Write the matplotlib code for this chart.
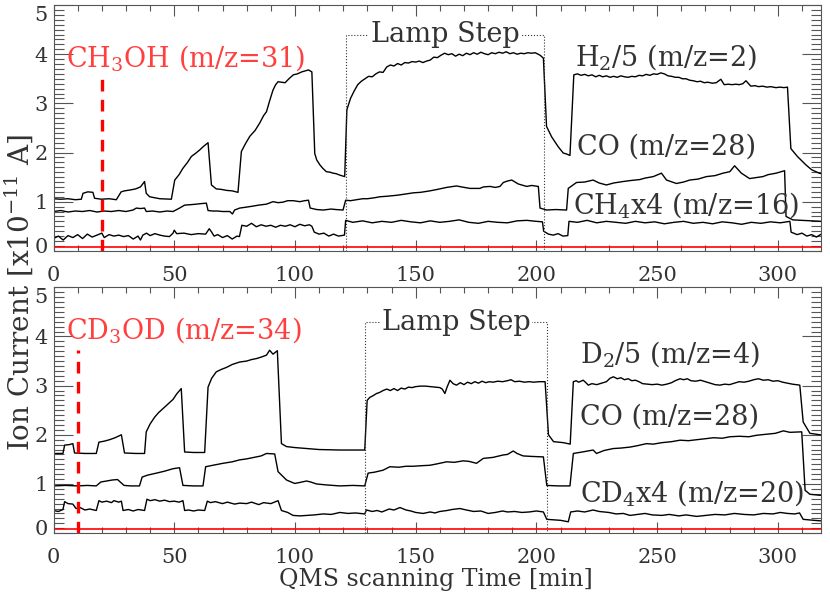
import numpy as np
import matplotlib
matplotlib.use("Agg")
import matplotlib.pyplot as plt
import matplotlib.transforms as mtransforms
from matplotlib.ticker import MultipleLocator

plt.rcParams["font.family"] = ["DejaVu Serif"]
plt.rcParams["mathtext.fontset"] = "dejavuserif"

# ---- top panel: CH3OH run ----
t_h2 = [0, 3, 6, 9, 11.5, 12.2, 14.2, 16.3, 17, 19.8, 23, 26, 28, 29.4, 32, 34, 36, 37.7,
        38.4, 39.8, 44, 48.8, 50.2, 52, 53.6, 55.5, 57.1, 59, 60.5, 62, 64, 65.4, 67.4,
        69.5, 71.6, 74, 76.4, 77.8, 79.5, 81.3, 83.5, 85.4, 87, 88.2, 89.5, 90.9, 92, 93,
        94.5, 95.9, 97.5, 99.3, 101, 102.8, 104.2, 105.6, 107, 108.2, 109, 110.3, 111.5,
        113, 114.5, 115.8, 117, 118.6, 120.6,
        121.5, 123, 124.5, 126, 127.5, 129, 130.5, 132, 133.5, 135, 136.5, 138, 139.5,
        141, 142.5, 144, 145.5, 147, 148.5, 150, 151.5, 153, 154.5, 156, 157.5, 159,
        160.5, 162, 163.5, 165, 166.5, 168, 169.5, 171, 172.5, 174, 175.5, 177, 178.5,
        180, 181.5, 183, 184.5, 186, 187.5, 189, 190.5, 192, 193.5, 195, 196.5, 198,
        199.5, 201.5, 202.9, 204.2, 206.3, 209, 211.1, 212.5, 213.9,
        215.5, 217, 218.5, 220, 221.5, 223, 224.6, 226, 227.5, 229, 230.5, 232, 233.5,
        235, 236.5, 238, 239.5, 241, 242.5, 244, 245.5, 247, 248.5, 250, 251.5, 253,
        254.5, 256, 257.5, 259, 260.5, 262, 263.5, 265, 266.5, 268, 269.5, 271, 272.9,
        274.5, 276.4, 277.8, 279.5, 281, 282.6, 284, 285.5, 286.8, 288.8, 290.5, 292,
        293.7, 295.5, 297, 299.2, 301, 302.5, 304, 305.4, 308.1, 311.6, 314, 317.1, 318]
h2 = [1.06, 1.05, 1.06, 1.04, 1.05, 1.17, 1.2, 1.19, 1.07, 1.05, 1.06, 1.04, 1.2, 1.22,
      1.24, 1.26, 1.3, 1.41, 1.17, 1.1, 1.06, 1.05, 1.44, 1.55, 1.68, 1.8, 1.92, 1.99,
      2.05, 2.12, 2.2, 1.34, 1.26, 1.25, 1.23, 1.22, 1.19, 2.02, 2.18, 2.33, 2.45, 2.6,
      2.75, 2.83, 3.05, 3.27, 3.38, 3.44, 3.43, 3.42, 3.5, 3.58, 3.6, 3.64, 3.66, 3.68,
      3.64, 1.98, 1.85, 1.75, 1.68, 1.61, 1.6, 1.58, 1.57, 1.54, 1.51,
      2.87, 3.1, 3.25, 3.38, 3.45, 3.5, 3.55, 3.54, 3.6, 3.64, 3.63, 3.74, 3.78,
      3.76, 3.81, 3.78, 3.83, 3.82, 3.85, 3.84, 3.86, 3.83, 3.86, 3.88, 3.94, 3.93,
      3.98, 4.02, 3.99, 4.01, 3.96, 4.0, 3.97, 4.02, 3.99, 4.03, 4.0, 4.04, 4.01,
      3.99, 4.03, 4.01, 4.04, 4.02, 4.05, 4.01, 4.03, 4.0, 4.02, 4.01, 4.03, 4.02,
      4.03, 3.98, 3.92, 2.53, 2.32, 2.12, 1.99, 1.97, 1.94,
      3.58, 3.6, 3.57, 3.59, 3.56, 3.58, 3.54, 3.57, 3.54, 3.56, 3.53, 3.55, 3.53,
      3.56, 3.54, 3.53, 3.55, 3.54, 3.57, 3.56, 3.59, 3.57, 3.6, 3.59, 3.62, 3.6,
      3.56, 3.55, 3.53, 3.53, 3.5, 3.5, 3.47, 3.46, 3.44, 3.45, 3.42, 3.43, 3.41,
      3.42, 3.49, 3.38, 3.39, 3.38, 3.39, 3.38, 3.4, 3.46, 3.35, 3.36, 3.34,
      3.35, 3.33, 3.34, 3.32, 3.33, 3.32, 3.33, 2.08, 1.92, 1.75, 1.65, 1.58, 1.57]

t_co1 = [0, 3, 6, 9, 12, 15, 18, 21, 24, 27, 30, 32.9, 34.3, 36, 37.7, 38.4, 41, 44, 47,
         49.5, 52.2, 54.3, 57, 59.2, 61, 63.3, 64, 66, 68, 70, 73, 74.1, 75, 77.1, 80,
         82.6, 85, 88.2, 90.9, 93, 95, 97, 99.3, 102, 104, 105.6, 106.3, 109, 111.7, 115,
         117, 119.9, 121, 123, 125.5, 128, 130, 133, 135.2, 138, 142.1, 145, 149, 152,
         155.9, 159, 162.8, 166.9, 169, 172.5, 176.6, 178, 180.8, 183, 184.9, 186.3,
         188, 189.8, 192.5, 196, 198, 200.8, 201.5, 204.2, 208, 212.5, 213.2, 216.6,
         220, 223.5, 226, 229, 232, 235.9, 239, 242.8, 245, 248.4, 251.8, 253.9, 258,
         261, 263.5, 267, 270.4, 274, 277.3, 280.1, 282.1, 284.9, 288.3, 291, 293.8,
         296, 299.3, 302.8, 303.4, 306.2, 310, 314, 318]
co1 = [0.8, 0.82, 0.79, 0.81, 0.8, 0.82, 0.79, 0.81, 0.8, 0.82, 0.8, 0.83, 0.87, 0.86,
       0.87, 0.8, 0.81, 0.79, 0.81, 0.8, 0.87, 0.93, 0.94, 0.95, 0.96, 0.97, 0.82, 0.81,
       0.81, 0.8, 0.8, 0.75, 0.83, 0.87, 0.89, 0.91, 0.93, 0.95, 1.0, 0.98, 0.99, 1.02,
       1.02, 1.0, 1.02, 1.03, 0.87, 0.84, 0.83, 0.85, 0.84, 0.83, 1.03, 1.02, 1.04, 1.06,
       1.06, 1.08, 1.1, 1.11, 1.13, 1.15, 1.18, 1.19, 1.22, 1.25, 1.29, 1.32, 1.3, 1.27,
       1.27, 1.3, 1.31, 1.29, 1.31, 1.39, 1.42, 1.44, 1.36, 1.31, 1.33, 1.31, 0.87, 0.83,
       0.84, 0.83, 1.27, 1.39, 1.4, 1.44, 1.38, 1.34, 1.38, 1.41, 1.43, 1.45, 1.48, 1.51,
       1.58, 1.44, 1.37, 1.4, 1.44, 1.46, 1.51, 1.53, 1.58, 1.61, 1.73, 1.58, 1.47, 1.49,
       1.51, 1.55, 1.58, 1.63, 0.7, 0.63, 0.62, 0.61, 0.6]

t_ch4 = [0, 2, 4, 6, 8, 10, 12, 14, 16, 18, 20, 21, 23, 25, 27, 29, 31, 33, 35, 36, 37,
         38.5, 40, 42, 44, 46, 48, 49.5, 50, 51, 54, 57, 60, 63, 64.5, 65.5, 66.5, 68,
         70, 72, 74, 76, 77, 78, 80, 82, 84, 86, 88, 90, 92, 94, 96, 98, 100, 102, 104,
         106, 107, 108, 110, 112, 114, 116, 118, 120.5, 121, 124, 128, 132, 136, 140,
         144, 148, 152, 156, 160, 164, 168, 172, 176, 180, 184, 188, 192, 196, 200,
         202.5, 203, 205, 207, 209, 211, 213, 213.5, 217, 221, 225, 229, 233, 237, 241,
         245, 249, 253, 257, 261, 265, 269, 273, 277, 281, 285, 289, 293, 297, 301,
         305, 305.5, 308, 310, 312, 314, 316, 318]
ch4 = [0.25, 0.3, 0.22, 0.31, 0.27, 0.33, 0.25, 0.34, 0.28, 0.32, 0.36, 0.27, 0.33, 0.3,
       0.32, 0.29, 0.31, 0.24, 0.3, 0.22, 0.32, 0.36, 0.31, 0.35, 0.32, 0.3, 0.29, 0.36,
       0.42, 0.35, 0.36, 0.33, 0.35, 0.34, 0.45, 0.38, 0.3, 0.33, 0.27, 0.31, 0.24, 0.3,
       0.29, 0.52, 0.5, 0.56, 0.49, 0.53, 0.5, 0.52, 0.48, 0.52, 0.5, 0.53, 0.49, 0.54,
       0.51, 0.53, 0.5, 0.38, 0.34, 0.36, 0.3, 0.34, 0.3, 0.32, 0.62, 0.58, 0.61, 0.57,
       0.6, 0.58, 0.62, 0.59, 0.57, 0.61, 0.58, 0.6, 0.63, 0.58, 0.56, 0.6, 0.58, 0.57,
       0.61, 0.62, 0.6, 0.59, 0.4, 0.34, 0.32, 0.35, 0.3, 0.31, 0.6, 0.58, 0.62, 0.57,
       0.6, 0.58, 0.56, 0.6, 0.57, 0.59, 0.55, 0.58, 0.6, 0.56, 0.58, 0.55, 0.59, 0.57,
       0.54, 0.58, 0.56, 0.59, 0.57, 0.6, 0.38, 0.33, 0.36, 0.3, 0.33, 0.28, 0.34]

# ---- bottom panel: CD3OD run ----
t_d2 = [0, 3.9, 4.6, 6.5, 8.0, 8.7, 13, 17.7, 18.8, 21, 23.2, 25.5, 28.1, 29.4, 34, 37.7,
        38.4, 40, 41.9, 43.5, 45.3, 47.5, 49.5, 51, 52.9, 54.3, 58, 62.6, 64, 65.5, 67.4,
        69.5, 71.6, 74, 77.1, 80, 82, 84, 86, 88.2, 89.5, 90.9, 92.7, 94.4, 96.5, 100,
        104.8, 110, 118.6, 124, 128.9,
        129.9, 131, 132.5, 133.8, 135, 136.5, 138, 139.5, 141, 142.5, 144, 145.5, 147,
        148.5, 150, 152, 154, 156, 158, 160, 161, 162.1, 163, 164.2, 165.5, 166.9, 168.5,
        170, 171.5, 173, 174.5, 176, 177.5, 179, 180.5, 182, 184, 186, 188, 189.5, 191,
        193, 195, 197, 199, 201, 203.6, 205, 207.1, 211.2, 214,
        215.3, 216.5, 217.5, 219.4, 220.5, 221.5, 223, 225, 227, 229, 230.5, 231.9,
        233.5, 235, 236.5, 238, 239.5, 241, 242.5, 244, 246, 248, 250, 252, 254, 256,
        257.5, 259.5, 261, 262.5, 264, 266, 268, 270, 272, 274, 276, 278, 280, 282, 284,
        286, 288, 290, 292, 294, 296, 298, 300, 302, 304, 306, 309.1, 310.5, 313.3,
        317.4, 318]
d2 = [1.62, 1.62, 1.79, 1.8, 1.82, 1.63, 1.62, 1.62, 1.85, 1.87, 1.9, 1.94, 2.0, 1.63,
      1.62, 1.62, 2.06, 2.22, 2.36, 2.45, 2.53, 2.63, 2.72, 2.83, 2.94, 1.65, 1.64, 1.64,
      2.97, 3.15, 3.28, 3.33, 3.37, 3.43, 3.48, 3.5, 3.53, 3.55, 3.58, 3.62, 3.72, 3.64,
      3.71, 1.82, 1.76, 1.74, 1.72, 1.7, 1.69, 1.69, 1.69,
      2.7, 2.76, 2.8, 2.84, 2.86, 2.9, 2.93, 2.9, 2.94, 2.9, 2.95, 2.93, 2.97,
      2.96, 2.98, 2.99, 2.99, 2.98, 2.97, 2.96, 2.93, 2.84, 2.97, 3.11, 3.04, 3.01, 3.06,
      3.02, 3.07, 3.04, 3.08, 3.05, 3.09, 3.06, 3.08, 3.07, 3.09, 3.08, 3.1, 3.12, 3.08,
      3.09, 3.07, 3.08, 3.07, 3.08, 3.08, 2.0, 1.86, 1.84, 1.81,
      3.08, 3.1, 3.07, 3.11, 3.06, 3.01, 3.04, 3.02, 3.05, 3.08, 3.15, 3.18,
      3.14, 3.16, 3.12, 3.14, 3.1, 3.11, 3.08, 3.04, 3.03, 3.02, 3.03, 3.01, 3.03, 3.06,
      3.1, 3.14, 3.12, 3.14, 3.1, 3.09, 3.11, 3.08, 3.05, 3.02, 3.01, 3.03, 3.02, 3.05,
      3.08, 3.07, 3.09, 3.12, 3.14, 3.11, 3.12, 3.09, 3.1, 3.07, 3.05, 3.03, 3.01, 2.26,
      2.03, 2.0, 2.0]

t_co2 = [0, 5, 10, 14, 17.7, 19.6, 22, 24.3, 26.5, 29.2, 32, 35.6, 36.7, 39, 42.6, 46,
         49.5, 52.2, 53.6, 58, 61.9, 63, 66, 70.2, 74, 77.1, 80, 84, 86, 88.2, 91.6, 93,
         96.5, 99.9, 102, 104.8, 106.5, 108.9, 113, 118.6, 124, 128.9, 130.3, 133, 136.5,
         139.3, 143, 146, 149, 152, 155.9, 159, 162.8, 166, 169.7, 172, 175.2, 178, 182,
         186.3, 188, 190.4, 192, 194.5, 198, 202.9, 204.3, 209, 213.9, 215.3, 219, 223.5,
         224.9, 228, 231.8, 235, 238.8, 242, 245.6, 248.4, 252, 256, 259.5, 263, 266.4,
         270, 273.3, 277, 280.2, 284, 288, 291.2, 295, 299, 302.3, 305, 309.9, 311.3,
         313.3, 317.4, 318]
co2 = [0.96, 0.97, 0.96, 0.97, 0.96, 1.04, 1.06, 1.08, 1.09, 0.97, 0.96, 0.96, 1.14, 1.18,
       1.22, 1.26, 1.31, 1.33, 0.97, 0.96, 0.96, 1.35, 1.38, 1.42, 1.45, 1.49, 1.51, 1.55,
       1.57, 1.62, 1.61, 1.25, 1.08, 1.01, 1.03, 1.06, 1.04, 1.0, 0.98, 0.96, 0.97, 0.96,
       1.22, 1.24, 1.28, 1.35, 1.34, 1.36, 1.36, 1.37, 1.38, 1.41, 1.45, 1.44, 1.47, 1.46,
       1.42, 1.52, 1.54, 1.59, 1.6, 1.67, 1.62, 1.57, 1.56, 1.55, 0.97, 0.96, 0.96, 1.62,
       1.65, 1.69, 1.62, 1.68, 1.72, 1.73, 1.75, 1.78, 1.82, 1.81, 1.84, 1.86, 1.89, 1.88,
       1.9, 1.92, 1.94, 1.93, 1.96, 1.97, 1.96, 1.99, 2.01, 2.03, 2.08, 2.05, 2.06, 0.87,
       0.79, 0.77, 0.77]

t_cd4 = [0, 2, 3.9, 4.6, 6, 8, 9.3, 11, 13, 15, 17.7, 18.8, 20, 22, 24, 25, 27, 28.1, 28.8,
         31, 33, 35, 37.7, 38.7, 40, 42, 44, 46, 48, 50, 52, 53.6, 54.3, 56, 58, 60, 62.6,
         63.7, 65, 67, 70, 72, 75, 77.1, 80, 82, 85, 87, 90, 93, 94.4, 97, 99.2, 102,
         104.8, 108, 111.7, 115, 118.6, 122, 125, 128.9, 129.6, 132, 134, 136, 139, 141,
         143.5, 146, 148, 150, 153.1, 156, 158, 160, 163, 165, 168.3, 171, 174, 177, 180,
         183, 186, 188, 191, 194, 197, 200, 202.9, 204.3, 207, 210, 213.2, 214.2, 217,
         220, 223.5, 226, 230, 233, 236, 238.8, 242, 245, 248, 252, 255, 259, 262, 266.4,
         270, 274, 278, 282, 286, 290, 294, 298, 301, 304, 307, 309, 310.5, 313, 315,
         317.4, 318]
cd4 = [0.46, 0.44, 0.48, 0.64, 0.6, 0.59, 0.5, 0.52, 0.47, 0.49, 0.46, 0.66, 0.63, 0.65,
       0.62, 0.66, 0.63, 0.65, 0.46, 0.48, 0.45, 0.48, 0.46, 0.69, 0.66, 0.68, 0.65,
       0.67, 0.64, 0.65, 0.63, 0.66, 0.46, 0.47, 0.45, 0.47, 0.46, 0.65, 0.62, 0.64,
       0.6, 0.63, 0.59, 0.61, 0.6, 0.63, 0.58, 0.62, 0.6, 0.66, 0.46, 0.42, 0.36, 0.35,
       0.36, 0.37, 0.39, 0.38, 0.42, 0.4, 0.41, 0.39, 0.47, 0.44, 0.46, 0.43, 0.49,
       0.47, 0.52, 0.47, 0.45, 0.42, 0.4, 0.43, 0.41, 0.44, 0.46, 0.48, 0.5, 0.47, 0.44,
       0.45, 0.4, 0.42, 0.45, 0.43, 0.44, 0.42, 0.43, 0.45, 0.43, 0.28, 0.27, 0.26, 0.23,
       0.43, 0.45, 0.43, 0.47, 0.44, 0.42, 0.39, 0.4, 0.36, 0.38, 0.4, 0.37, 0.36, 0.38,
       0.35, 0.37, 0.34, 0.36, 0.38, 0.37, 0.4, 0.38, 0.37, 0.4, 0.39, 0.42, 0.4, 0.39,
       0.41, 0.28, 0.27, 0.26, 0.25, 0.25]

t_red = [0, 318]
red_top = [0.07, 0.07]
red_bot = [0.08, 0.08]

panels = [
    dict(pos=[0.0645, 0.577, 0.925, 0.4145],
         series=[(t_h2, h2), (t_co1, co1), (t_ch4, ch4)], red=red_top,
         dash_t=20, dash_top=3.58, lamp=(121, 203.2, 4.40),
         red_label=("CH$_3$OH (m/z=31)", 5, 3.92),
         labels=[("H$_2$/5 (m/z=2)", 216, 3.95), ("CO (m/z=28)", 216.7, 2.12),
                 ("CH$_4$x4 (m/z=16)", 215.3, 0.93)]),
    dict(pos=[0.0645, 0.101, 0.925, 0.4145],
         series=[(t_d2, d2), (t_co2, co2), (t_cd4, cd4)], red=red_bot,
         dash_t=10, dash_top=3.72, lamp=(129.2, 204.3, 4.29),
         red_label=("CD$_3$OD (m/z=34)", 5, 4.13),
         labels=[("D$_2$/5 (m/z=4)", 218, 3.65), ("CO (m/z=28)", 218, 2.36),
                 ("CD$_4$x4 (m/z=20)", 218, 0.81)]),
]

TXT = "#333333"
FS = 19.5
fig = plt.figure(figsize=(8.3, 5.93), dpi=100)
axes = []
for p in panels:
    ax = fig.add_axes(p["pos"])
    axes.append(ax)
    for t, v in p["series"]:
        ax.plot(t, v, color="black", lw=1.0)
    ax.plot(t_red, p["red"], color="red", lw=1.2)
    ax.plot([p["dash_t"], p["dash_t"]], [0, p["dash_top"]], color="red", lw=2.4,
            ls=(0, (3.5, 2.5)))
    l0, l1, ltop = p["lamp"]
    ax.plot([l0, l0, l1, l1], [0, ltop, ltop, 0], color="#333333", lw=0.8, ls=":")
    ax.text((l0 + l1) / 2, ltop, "Lamp Step", ha="center", va="center", fontsize=FS,
            color=TXT, bbox=dict(facecolor="white", edgecolor="none", pad=1))
    s, x, y = p["red_label"]
    ax.text(x, y, s, color="#ff4040", fontsize=FS, va="center")
    for s, x, y in p["labels"]:
        ax.text(x, y, s, color=TXT, fontsize=FS, va="center")
    ax.set_xlim(0, 318)
    ax.set_ylim(0, 5)
    ax.xaxis.set_major_locator(MultipleLocator(50))
    ax.xaxis.set_minor_locator(MultipleLocator(10))
    ax.yaxis.set_major_locator(MultipleLocator(1))
    ax.yaxis.set_minor_locator(MultipleLocator(0.1))
    ax.tick_params(which="both", direction="in", top=True, right=True, colors="#555555",
                   labelcolor=TXT, labelsize=15, width=0.8)
    ax.tick_params(axis="x", which="major", length=8, pad=11)
    ax.tick_params(axis="x", which="minor", length=4)
    ax.tick_params(axis="y", which="major", length=14, pad=4)
    ax.tick_params(axis="y", which="minor", length=7)
    for sp in ax.spines.values():
        sp.set_color("#555555")
        sp.set_linewidth(0.8)

fig.text(0.525, 0.022, "QMS scanning Time [min]", ha="center", va="center",
         fontsize=17, color=TXT)
fig.text(0.022, 0.507, "Ion Current [x10$^{-11}$ A]", ha="center", va="center",
         rotation=90, fontsize=20, color=TXT)

# nudge the end labels (0 and 5) inward, as in the original
fig.canvas.draw()
for ax in axes:
    for tk in ax.yaxis.get_major_ticks():
        val = tk.get_loc()
        if abs(val - 5) < 1e-6:
            dy = -6
        elif abs(val) < 1e-6:
            dy = 4
        else:
            continue
        tk.label1.set_transform(tk.label1.get_transform() +
                                mtransforms.ScaledTranslation(0, dy / 72, fig.dpi_scale_trans))

fig.savefig("out.png", dpi=100)
